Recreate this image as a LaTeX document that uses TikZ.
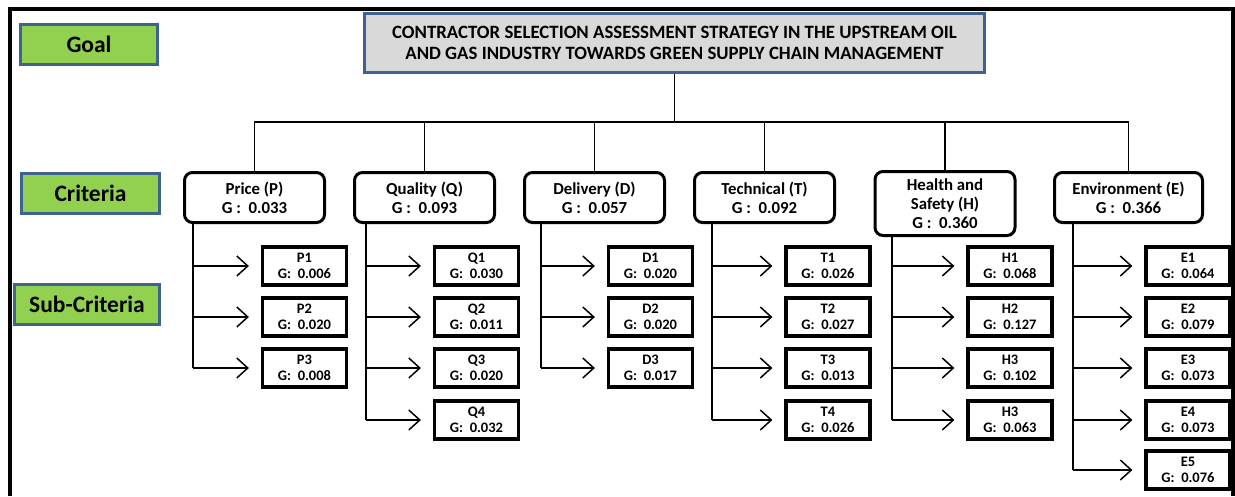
\documentclass[tikz,border=0pt]{standalone}
\usepackage{fontspec}
\setmainfont{Carlito}
\usetikzlibrary{arrows.meta}
\definecolor{lblgreen}{HTML}{92D050}
\definecolor{lblblue}{HTML}{3F6290}
\definecolor{titlegray}{HTML}{D9D9D9}
\tikzset{
  lvl/.style={draw=lblblue, line width=3pt, fill=lblgreen, minimum height=40pt, font=\bfseries\fontsize{23.5}{26}\selectfont, inner sep=0pt},
  titlebox/.style={draw=lblblue, line width=3pt, fill=titlegray, minimum width=620pt, minimum height=59pt, align=center, font=\bfseries\fontsize{18.8}{21}\selectfont, inner sep=0pt},
  crit/.style={draw=black, line width=3pt, rounded corners=8pt, minimum width=140pt, minimum height=50pt, align=center, font=\bfseries\fontsize{16.8}{19}\selectfont, inner sep=0pt},
  sub/.style={draw=black, line width=3.2pt, minimum width=84pt, minimum height=38pt, align=center, font=\bfseries\fontsize{14.5}{15.5}\selectfont, inner sep=0pt},
  conn/.style={line width=1.5pt},
  arr/.style={line width=1.5pt, -{Straight Barb[length=11pt,width=20pt]}, shorten >=12pt},
}
\newcommand{\gv}[1]{G:\ \ #1}
\begin{document}
\begin{tikzpicture}[x=1pt,y=-1pt]
\useasboundingbox (0,0) rectangle (1235,496);
% frame
\draw[line width=4pt] (10,496) -- (10,9) -- (1233,9) -- (1233,496);
% level labels
\node[lvl, minimum width=137pt] (goal) at (89,44) {Goal};
\node[lvl, minimum width=138pt] (critlbl) at (90.5,193.5) {Criteria};
\node[lvl, minimum width=145pt] (sublbl) at (87,304.5) {Sub-Criteria};
% title
\node[titlebox] (title) at (674.5,43) {CONTRACTOR SELECTION ASSESSMENT STRATEGY IN THE UPSTREAM OIL\\AND GAS INDUSTRY TOWARDS GREEN SUPPLY CHAIN MANAGEMENT};
% criteria
\node[crit] (P) at (254.5,197.5) {Price (P)\\G :\ \ 0.033};
\node[crit] (Q) at (424.5,197.5) {Quality (Q)\\G :\ \ 0.093};
\node[crit] (D) at (594.5,197.5) {Delivery (D)\\G :\ \ 0.057};
\node[crit] (T) at (764.5,197.5) {Technical (T)\\G :\ \ 0.092};
\node[crit, minimum height=64pt] (H) at (945,203.5) {Health and\\Safety (H)\\G :\ \ 0.360};
\node[crit, minimum width=148pt] (E) at (1128.5,197.5) {Environment (E)\\G :\ \ 0.366};
% tree from title
\coordinate (bar) at (0,122);
\draw[conn] (title.south) -- (title.south |- bar);
\draw[conn] (P.north) -- (P.north |- bar) -- (E.north |- bar) -- (E.north);
\foreach \c in {Q,D,T,H}{\draw[conn] (\c.north) -- (\c.north |- bar);}
% sub-criteria
\node[sub] (P1) at (304.5,266) {P1\\\gv{0.006}};
\node[sub] (P2) at (304.5,317) {P2\\\gv{0.020}};
\node[sub] (P3) at (304.5,368) {P3\\\gv{0.008}};
\node[sub] (Q1) at (476.5,266) {Q1\\\gv{0.030}};
\node[sub] (Q2) at (476.5,317) {Q2\\\gv{0.011}};
\node[sub] (Q3) at (476.5,368) {Q3\\\gv{0.020}};
\node[sub] (Q4) at (476.5,420) {Q4\\\gv{0.032}};
\node[sub] (D1) at (650.5,266) {D1\\\gv{0.020}};
\node[sub] (D2) at (650.5,317) {D2\\\gv{0.020}};
\node[sub] (D3) at (650.5,368) {D3\\\gv{0.017}};
\node[sub] (T1) at (828,266) {T1\\\gv{0.026}};
\node[sub] (T2) at (828,317) {T2\\\gv{0.027}};
\node[sub] (T3) at (828,368) {T3\\\gv{0.013}};
\node[sub] (T4) at (828,420) {T4\\\gv{0.026}};
\node[sub] (H1) at (1010,266) {H1\\\gv{0.068}};
\node[sub] (H2) at (1010,317) {H2\\\gv{0.127}};
\node[sub] (H3) at (1010,368) {H3\\\gv{0.102}};
\node[sub] (H4) at (1010,420) {H3\\\gv{0.063}};
\node[sub] (E1) at (1188,266) {E1\\\gv{0.064}};
\node[sub] (E2) at (1188,317) {E2\\\gv{0.079}};
\node[sub] (E3) at (1188,368) {E3\\\gv{0.073}};
\node[sub] (E4) at (1188,420) {E4\\\gv{0.073}};
\node[sub] (E5) at (1188,470) {E5\\\gv{0.076}};
% trunks
\coordinate (tP) at (193,0);
\coordinate (tQ) at (366,0);
\coordinate (tD) at (541,0);
\coordinate (tT) at (712,0);
\coordinate (tH) at (892,0);
\coordinate (tE) at (1073,0);
\draw[conn] (tP |- P.south) -- (tP |- P3.west);
\draw[conn] (tQ |- Q.south) -- (tQ |- Q4.west);
\draw[conn] (tD |- D.south) -- (tD |- D3.west);
\draw[conn] (tT |- T.south) -- (tT |- T4.west);
\draw[conn] (tH |- H.south) -- (tH |- H4.west);
\draw[conn] (tE |- E.south) -- (tE |- E5.west);
\foreach \n in {1,2,3}{\draw[arr] (tP |- P\n.west) -- (P\n.west);}
\foreach \n in {1,2,3,4}{\draw[arr] (tQ |- Q\n.west) -- (Q\n.west);}
\foreach \n in {1,2,3}{\draw[arr] (tD |- D\n.west) -- (D\n.west);}
\foreach \n in {1,2,3,4}{\draw[arr] (tT |- T\n.west) -- (T\n.west);}
\foreach \n in {1,2,3,4}{\draw[arr] (tH |- H\n.west) -- (H\n.west);}
\foreach \n in {1,2,3,4,5}{\draw[arr] (tE |- E\n.west) -- (E\n.west);}
\end{tikzpicture}
\end{document}
